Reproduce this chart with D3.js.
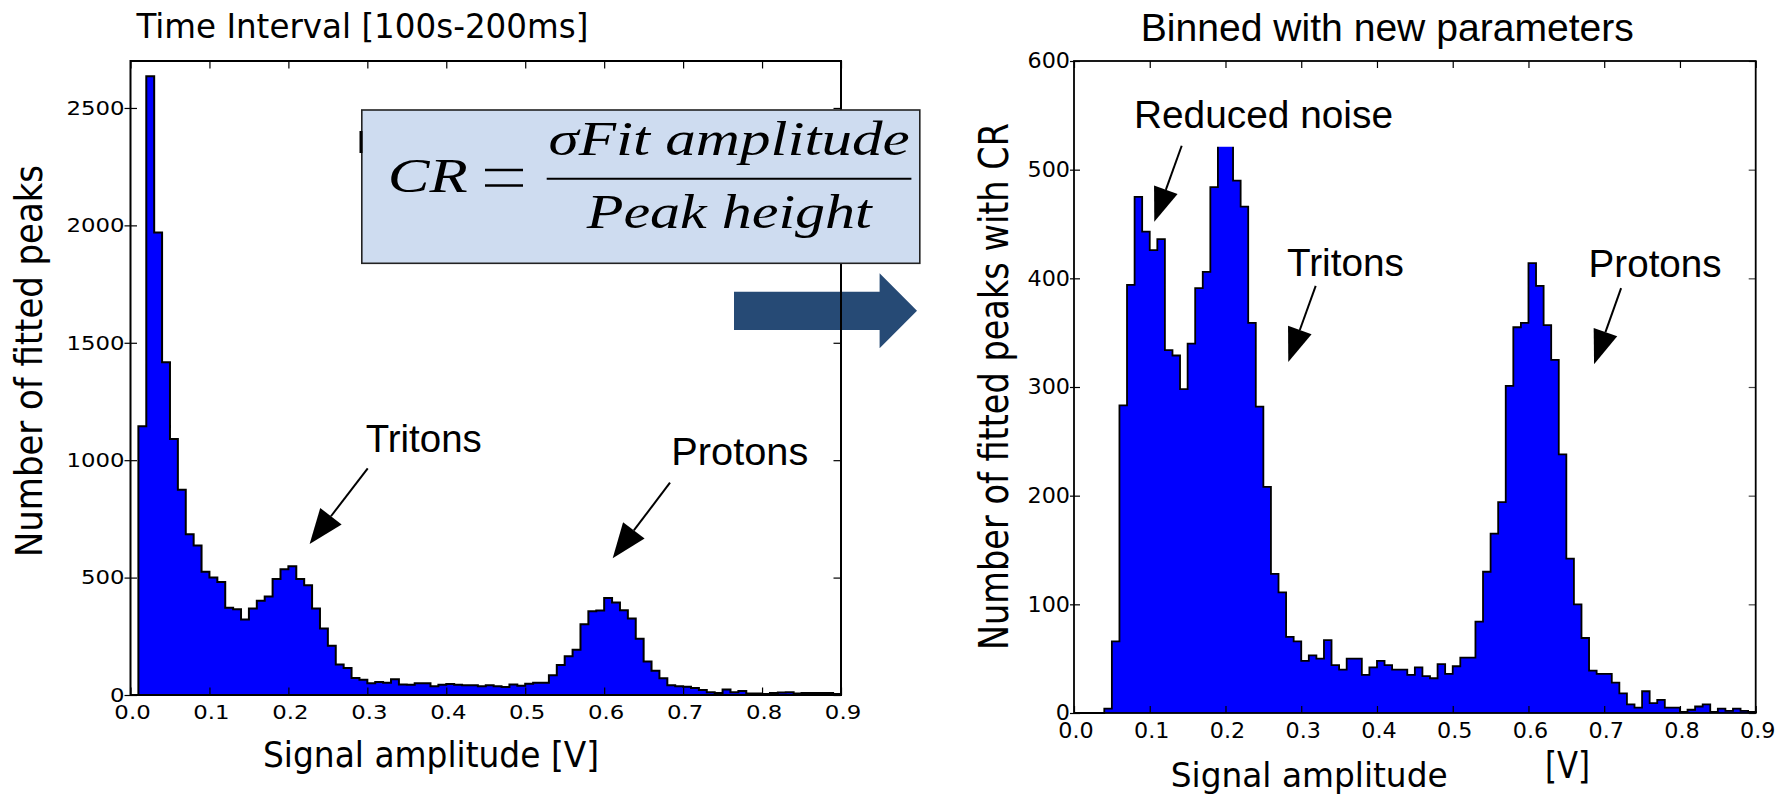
<!DOCTYPE html>
<html>
<head>
<meta charset="utf-8">
<script src="https://cdn.jsdelivr.net/npm/d3@7"></script>
<style>
  html, body { margin: 0; padding: 0; background: #fff; }
  svg { display: block; }
</style>
</head>
<body>
<svg id="chart" width="1791" height="796"></svg>
<script>
// histogram bins: 0.01 V wide, starting at 0.00 V (90 bins up to 0.90 V)
const binStart = 0.0;
const binWidth = 0.01;

// left: all fitted peaks, time interval 100s-200ms
const countsAll = [
  0, 1145, 2635, 1970, 1417, 1090, 874, 685, 637, 525,
  500, 481, 372, 365, 321, 368, 401, 419, 494, 535,
  548, 494, 467, 368, 283, 210, 130, 115, 72, 65,
  50, 55, 52, 67, 45, 44, 50, 50, 37, 44,
  47, 44, 42, 41, 37, 42, 37, 34, 45, 39,
  48, 52, 52, 84, 128, 165, 193, 301, 357, 360,
  413, 394, 361, 326, 240, 143, 103, 71, 41, 37,
  35, 30, 21, 12, 9, 23, 12, 17, 6, 6,
  4, 9, 11, 12, 6, 8, 9, 9, 9, 4
];

// right: peaks kept with the CR cut
const countsCR = [
  0, 0, 0, 0, 4, 66, 283, 394, 475, 443,
  426, 436, 334, 329, 298, 340, 391, 406, 484, 540,
  560, 490, 466, 359, 282, 208, 128, 111, 70, 66,
  48, 53, 50, 67, 44, 40, 50, 50, 35, 42,
  48, 44, 40, 40, 35, 42, 34, 32, 45, 36,
  43, 51, 51, 84, 130, 165, 194, 301, 355, 359,
  414, 393, 357, 325, 238, 142, 100, 69, 39, 36,
  36, 28, 18, 8, 5, 20, 9, 12, 5, 5,
  1, 3, 6, 8, 1, 4, 2, 4, 2, 1
];

const xTicks = [0, 0.1, 0.2, 0.3, 0.4, 0.5, 0.6, 0.7, 0.8, 0.9];
const yTicksAll = [0, 500, 1000, 1500, 2000, 2500];
const yTicksCR = [0, 100, 200, 300, 400, 500, 600];

// annotations, data units: text x/y, arrow from x/y, arrow tip x/y
const notesAll = [
  { label: "Tritons", tx: 0.298, ty: 1035, fx: 0.3005, fy: 965, px: 0.2269, py: 643, len: 116 },
  { label: "Protons", tx: 0.685, ty: 980, fx: 0.6834, fy: 904, px: 0.6108, py: 582, len: 137 }
];
const notesCR = [
  { label: "Reduced noise", tx: 0.0792, ty: 538, fx: 0.1422, fy: 522, px: 0.106, py: 452, len: 259, mask: true },
  { label: "Tritons", tx: 0.2812, ty: 402, fx: 0.3191, fy: 393, px: 0.2829, py: 323, len: 117 },
  { label: "Protons", tx: 0.6794, ty: 401, fx: 0.7223, fy: 391, px: 0.6866, py: 321, len: 133 }
];

const svg = d3.select("#chart");
const sans = "DejaVu Sans";
const arial = "Liberation Sans";

function stretch(sel, ratio) {
  sel.each(function () {
    const w = this.getComputedTextLength();
    d3.select(this).attr("textLength", w * ratio).attr("lengthAdjust", "spacingAndGlyphs");
  });
}

function arrow(g, x1, y1, x2, y2, headLen, headW) {
  const dx = x2 - x1, dy = y2 - y1, L = Math.hypot(dx, dy);
  const ux = dx / L, uy = dy / L;
  const bx = x2 - ux * headLen, by = y2 - uy * headLen;
  const nx = -uy * headW / 2, ny = ux * headW / 2;
  g.append("line")
    .attr("x1", x1).attr("y1", y1).attr("x2", bx).attr("y2", by)
    .attr("stroke", "#000").attr("stroke-width", 2);
  g.append("path")
    .attr("d", `M${x2},${y2}L${bx + nx},${by + ny}L${bx - nx},${by - ny}Z`)
    .attr("fill", "#000");
}

function drawPanel(p) {
  const g = svg.append("g");
  const x = d3.scaleLinear().domain([0, 0.9]).range([p.left, p.right]);
  const y = d3.scaleLinear().domain([0, p.yMax]).range([p.bottom, p.top]);

  const pts = p.counts.map((v, i) => ({ x: binStart + i * binWidth, y: v }));
  const last = { x: binStart + p.counts.length * binWidth, y: p.counts[p.counts.length - 1] };
  const steps = pts.concat([last]);

  g.append("path")
    .datum(steps)
    .attr("fill", "#0000ff")
    .attr("d", d3.area().x(d => x(d.x)).y0(y(0)).y1(d => y(d.y)).curve(d3.curveStepAfter));

  const outline = [{ x: binStart, y: 0 }].concat(steps, [{ x: last.x, y: 0 }]);
  g.append("path")
    .datum(outline)
    .attr("fill", "none")
    .attr("stroke", "#000")
    .attr("stroke-width", p.outlineW)
    .attr("stroke-linejoin", "miter")
    .attr("d", d3.line().x(d => x(d.x)).y(d => y(d.y)).curve(d3.curveStepAfter));

  // bottom axis with labels, ticks inside
  const xa = g.append("g")
    .attr("transform", `translate(0,${p.bottom})`)
    .call(d3.axisBottom(x).tickValues(xTicks).tickFormat(d3.format(".1f"))
      .tickSizeInner(-p.tick).tickSizeOuter(0).tickPadding(10));
  // left axis with labels, short outside ticks
  const ya = g.append("g")
    .attr("transform", `translate(${p.left},0)`)
    .call(d3.axisLeft(y).tickValues(p.yTicks).tickFormat(d3.format("d"))
      .tickSize(p.outTick).tickPadding(0));
  // inside ticks on the other sides
  g.append("g").attr("transform", `translate(0,${p.top})`)
    .call(d3.axisTop(x).tickValues(xTicks).tickFormat("").tickSize(-p.tick));
  g.append("g").attr("transform", `translate(${p.right},0)`)
    .call(d3.axisRight(y).tickValues(p.yTicks).tickFormat("").tickSize(-p.tick))
    .attr("color", p.rightTickColor);
  g.append("g").attr("transform", `translate(${p.left},0)`)
    .call(d3.axisRight(y).tickValues(p.yTicks).tickFormat("").tickSize(p.tick - 1));

  g.selectAll(".domain").remove();
  g.selectAll(".tick line").attr("stroke-width", 1.2);

  [xa, ya].forEach(a => {
    a.selectAll("text")
      .attr("font-family", sans)
      .attr("font-size", p.tickFont)
      .attr("fill", "#000");
    stretch(a.selectAll("text"), p.tickStretch);
  });
  xa.selectAll("text").attr("dx", 1.5);

  g.append("rect")
    .attr("x", p.left).attr("y", p.top)
    .attr("width", p.right - p.left).attr("height", p.bottom - p.top)
    .attr("fill", "none").attr("stroke", "#000").attr("stroke-width", p.frameW);

  // annotations
  p.notes.forEach(n => {
    const t = g.append("text")
      .attr("x", x(n.tx)).attr("y", y(n.ty))
      .attr("font-family", arial).attr("font-size", p.noteFont)
      .attr("textLength", n.len).attr("lengthAdjust", "spacingAndGlyphs")
      .text(n.label);
    if (n.mask) {
      // white label box hides the top of the tallest bins, as in the original
      const b = t.node().getBBox();
      g.insert("rect", () => t.node())
        .attr("x", b.x - 8).attr("y", b.y - 6)
        .attr("width", b.width + 16).attr("height", y(n.fy) + 1 - (b.y - 6))
        .attr("fill", "#fff");
    }
    arrow(g, x(n.fx), y(n.fy), x(n.px), y(n.py), p.headLen, p.headW);
  });
  return g;
}

drawPanel({
  left: 130.5, right: 841, top: 61, bottom: 695, yMax: 2700,
  counts: countsAll, yTicks: yTicksAll, notes: notesAll,
  tick: 7.5, outTick: 6, tickFont: 19.5, tickStretch: 1.17,
  outlineW: 2, frameW: 2, noteFont: 39, headLen: 35, headW: 27,
  rightTickColor: "#000"
});

drawPanel({
  left: 1074, right: 1755.7, top: 61, bottom: 713, yMax: 600,
  counts: countsCR, yTicks: yTicksCR, notes: notesCR,
  tick: 7, outTick: 4, tickFont: 21, tickStretch: 1.06,
  outlineW: 1.8, frameW: 1.8, noteFont: 38, headLen: 34, headW: 25,
  rightTickColor: "#444"
});

// titles and axis labels
svg.append("text")
  .attr("x", 136.4).attr("y", 38.3)
  .attr("font-family", sans).attr("font-size", 34)
  .attr("textLength", 452).attr("lengthAdjust", "spacingAndGlyphs")
  .text("Time Interval [100s-200ms]");

svg.append("text")
  .attr("x", 263).attr("y", 766.7)
  .attr("font-family", sans).attr("font-size", 36)
  .attr("textLength", 336).attr("lengthAdjust", "spacingAndGlyphs")
  .text("Signal amplitude [V]");

svg.append("text")
  .attr("transform", "translate(41.7,361) rotate(-90)")
  .attr("text-anchor", "middle")
  .attr("font-family", sans).attr("font-size", 37)
  .attr("textLength", 392).attr("lengthAdjust", "spacingAndGlyphs")
  .text("Number of fitted peaks");

svg.append("text")
  .attr("x", 1140.8).attr("y", 40.7)
  .attr("font-family", arial).attr("font-size", 38)
  .attr("textLength", 493).attr("lengthAdjust", "spacingAndGlyphs")
  .text("Binned with new parameters");

svg.append("text")
  .attr("x", 1170.7).attr("y", 787.3)
  .attr("font-family", sans).attr("font-size", 33)
  .attr("textLength", 277).attr("lengthAdjust", "spacingAndGlyphs")
  .text("Signal amplitude");

svg.append("text")
  .attr("x", 1545).attr("y", 778)
  .attr("font-family", sans).attr("font-size", 38)
  .attr("textLength", 45).attr("lengthAdjust", "spacingAndGlyphs")
  .text("[V]");

svg.append("text")
  .attr("transform", "translate(1007.8,386.5) rotate(-90)")
  .attr("text-anchor", "middle")
  .attr("font-family", sans).attr("font-size", 40)
  .attr("textLength", 527).attr("lengthAdjust", "spacingAndGlyphs")
  .text("Number of fitted peaks with CR");

// block arrow between the panels, under the panel frames
svg.insert("path", "g")
  .attr("d", "M734,291.7L879.6,291.7L879.6,273.3L917,310.7L879.6,348.3L879.6,330L734,330Z")
  .attr("fill", "#264a75");

// CR formula box
const fb = svg.append("g");
fb.append("rect")
  .attr("x", 361.8).attr("y", 110).attr("width", 558).attr("height", 153.3)
  .attr("fill", "#cedcf0").attr("stroke", "#222").attr("stroke-width", 1.6);
fb.append("rect")
  .attr("x", 359.5).attr("y", 131).attr("width", 3).attr("height", 22).attr("fill", "#000");
const serif = "Liberation Serif";
fb.append("text")
  .attr("x", 387.8).attr("y", 191.7)
  .attr("font-family", serif).attr("font-style", "italic").attr("font-size", 48)
  .attr("textLength", 80).attr("lengthAdjust", "spacingAndGlyphs")
  .text("CR");
fb.append("line").attr("x1", 485).attr("x2", 523).attr("y1", 170).attr("y2", 170)
  .attr("stroke", "#000").attr("stroke-width", 2.6);
fb.append("line").attr("x1", 485).attr("x2", 523).attr("y1", 185.5).attr("y2", 185.5)
  .attr("stroke", "#000").attr("stroke-width", 2.6);
fb.append("text")
  .attr("x", 548.6).attr("y", 155)
  .attr("font-family", serif).attr("font-style", "italic").attr("font-size", 48)
  .attr("textLength", 361).attr("lengthAdjust", "spacingAndGlyphs")
  .text("σFit amplitude");
fb.append("line").attr("x1", 546.7).attr("x2", 911.4).attr("y1", 178.7).attr("y2", 178.7)
  .attr("stroke", "#000").attr("stroke-width", 2);
fb.append("text")
  .attr("x", 586.8).attr("y", 227.7)
  .attr("font-family", serif).attr("font-style", "italic").attr("font-size", 48)
  .attr("textLength", 285).attr("lengthAdjust", "spacingAndGlyphs")
  .text("Peak height");
</script>
</body>
</html>
